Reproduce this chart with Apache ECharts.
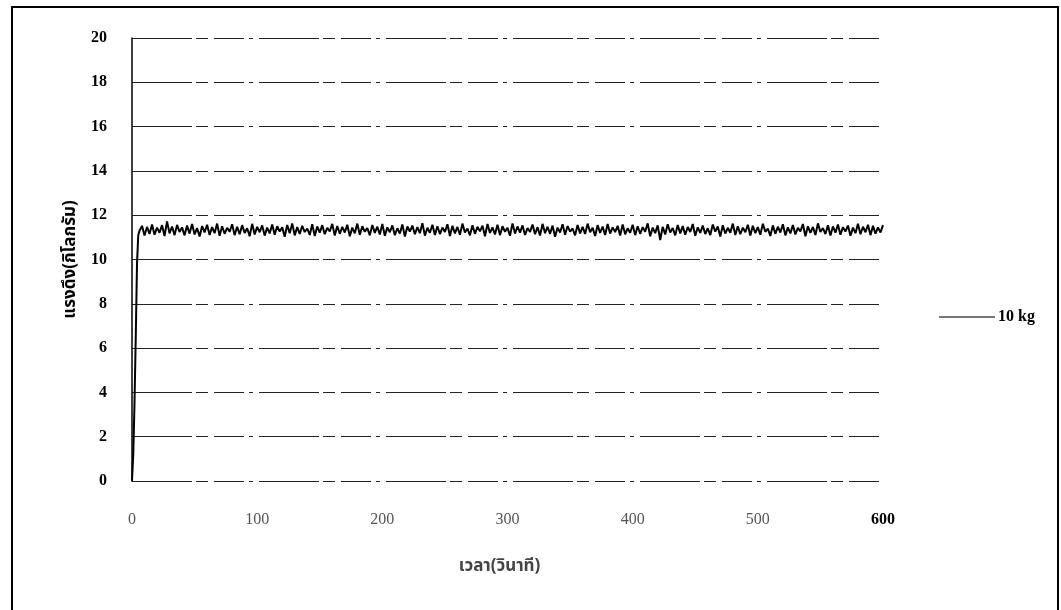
<!DOCTYPE html>
<html>
<head>
<meta charset="utf-8">
<script src="https://cdn.jsdelivr.net/npm/echarts@6/dist/echarts.min.js"></script>
<style>
  html, body { margin: 0; padding: 0; background: #fff; }
  #chart { width: 1061px; height: 610px; }
</style>
</head>
<body>
<div id="chart"></div>
<script>
var chart = echarts.init(document.getElementById('chart'));

// loading ramp at the start (time in s, force in kg)
var rampTime = [0, 1, 2, 3, 4, 5];
var rampForce = [0, 1.2, 3.5, 6.5, 9.8, 11.1];

// steady part, one reading every 2 s starting at 6 s
var steadyStart = 6;
var steadyStep = 2;
var steadyForce = [
    11.30,11.52,11.08,11.47,11.15,11.58,11.12,11.44,11.21,11.55,11.06,11.72,11.18,11.49,11.10,11.56,11.24,11.45,11.09,11.53,
    11.17,11.60,11.13,11.42,11.04,11.51,11.22,11.57,11.11,11.46,11.19,11.62,11.07,11.50,11.16,11.43,11.25,11.59,11.10,11.48,
    11.14,11.55,11.20,11.41,11.05,11.61,11.13,11.47,11.23,11.54,11.08,11.44,11.18,11.58,11.12,11.50,11.26,11.45,11.03,11.56,
    11.19,11.63,11.09,11.46,11.15,11.52,11.24,11.40,11.11,11.59,11.06,11.49,11.21,11.55,11.14,11.43,11.27,11.61,11.08,11.51,
    11.16,11.47,11.22,11.57,11.05,11.44,11.18,11.62,11.12,11.50,11.25,11.42,11.09,11.56,11.20,11.48,11.13,11.60,11.07,11.45,
    11.23,11.54,11.10,11.41,11.17,11.58,11.04,11.49,11.26,11.53,11.14,11.46,11.19,11.64,11.08,11.43,11.21,11.57,11.11,11.50,
    11.15,11.44,11.24,11.59,11.06,11.52,11.18,11.47,11.12,11.62,11.22,11.40,11.09,11.55,11.16,11.48,11.27,11.53,11.05,11.60,
    11.20,11.45,11.13,11.57,11.10,11.50,11.25,11.43,11.07,11.63,11.17,11.49,11.21,11.54,11.11,11.42,11.24,11.58,11.14,11.46,
    11.08,11.61,11.19,11.48,11.16,11.53,11.03,11.44,11.22,11.59,11.12,11.51,11.26,11.40,11.09,11.56,11.18,11.47,11.15,11.62,
    11.23,11.43,11.06,11.55,11.20,11.49,11.11,11.60,11.17,11.45,11.24,11.52,11.08,11.58,11.14,11.41,11.21,11.57,11.10,11.50,
    11.16,11.46,11.25,11.63,11.05,11.44,11.19,11.54,10.88,11.48,11.13,11.59,11.22,11.42,11.09,11.56,11.18,11.51,11.12,11.47,
    11.24,11.60,11.07,11.45,11.20,11.53,11.15,11.41,11.10,11.58,11.26,11.49,11.04,11.55,11.17,11.43,11.21,11.62,11.11,11.50,
    11.14,11.44,11.23,11.57,11.08,11.52,11.19,11.46,11.12,11.61,11.25,11.40,11.06,11.54,11.16,11.48,11.22,11.59,11.09,11.45,
    11.18,11.56,11.13,11.43,11.27,11.60,11.05,11.50,11.20,11.47,11.11,11.63,11.24,11.42,11.15,11.55,11.08,11.49,11.21,11.58,
    11.12,11.46,11.26,11.53,11.07,11.44,11.19,11.61,11.14,11.48,11.23,11.57,11.10,11.52,11.17,11.45,11.22,11.55
];

var seriesName = '10 kg';
var xTitle = 'เวลา(วินาที)';
var yTitle = 'แรงดึง(กิโลกรัม)';

var points = [];
for (var i = 0; i < rampTime.length; i++) {
    points.push([rampTime[i], rampForce[i]]);
}
for (var j = 0; j < steadyForce.length; j++) {
    points.push([steadyStart + j * steadyStep, steadyForce[j]]);
}

var serif = '"Liberation Serif", "DejaVu Serif", serif';
var thai = '"Noto Sans Thai", "Noto Serif Thai", Garuda, Loma, "DejaVu Sans", sans-serif';

var option = {
    backgroundColor: '#fff',
    animation: false,
    grid: {
        left: 132,
        right: 178,
        top: 38,
        bottom: 129
    },
    legend: {
        left: 934,
        top: 304,
        itemWidth: 56,
        itemHeight: 2,
        itemGap: 4,
        icon: 'rect',
        itemStyle: { color: '#777' },
        textStyle: {
            fontFamily: serif,
            fontWeight: 'bold',
            fontSize: 16,
            color: '#000',
            padding: [0, 0, 0, -2]
        },
        data: [seriesName]
    },
    xAxis: {
        type: 'value',
        min: 0,
        max: 600,
        interval: 100,
        name: xTitle,
        nameLocation: 'middle',
        nameGap: 78,
        nameTextStyle: {
            fontFamily: thai,
            fontSize: 17,
            fontWeight: 'bold',
            color: '#444',
            padding: [0, 16, 0, 0]
        },
        axisLine: { show: false },
        axisTick: { show: false },
        splitLine: { show: false },
        axisLabel: {
            margin: 31,
            fontFamily: serif,
            fontSize: 16,
            color: '#555',
            formatter: function (v) {
                return v === 600 ? '{last|600}' : String(v);
            },
            rich: {
                last: {
                    fontFamily: serif,
                    fontSize: 16,
                    fontWeight: 'bold',
                    color: '#000'
                }
            }
        }
    },
    yAxis: {
        type: 'value',
        min: 0,
        max: 20,
        interval: 2,
        name: yTitle,
        nameLocation: 'middle',
        nameGap: 44,
        nameRotate: 90,
        nameTextStyle: {
            fontFamily: thai,
            fontSize: 17,
            fontWeight: 'bold',
            color: '#000'
        },
        axisLine: { show: true, lineStyle: { color: '#000', width: 1.5 } },
        axisTick: { show: false },
        splitLine: {
            show: true,
            lineStyle: {
                color: '#222',
                width: 1,
                type: [60, 4, 12, 6, 30, 5, 4, 6]
            }
        },
        axisLabel: {
            margin: 25,
            fontFamily: serif,
            fontSize: 16,
            fontWeight: 'bold',
            color: '#000'
        }
    },
    graphic: [
        {
            type: 'rect',
            shape: { x: 12, y: 7, width: 1046, height: 610 },
            style: { fill: 'none', stroke: '#000', lineWidth: 2 },
            silent: true
        }
    ],
    series: [
        {
            name: seriesName,
            type: 'line',
            data: points,
            showSymbol: false,
            lineStyle: { color: '#000', width: 2 },
            itemStyle: { color: '#000' }
        }
    ]
};

chart.setOption(option);
</script>
</body>
</html>
